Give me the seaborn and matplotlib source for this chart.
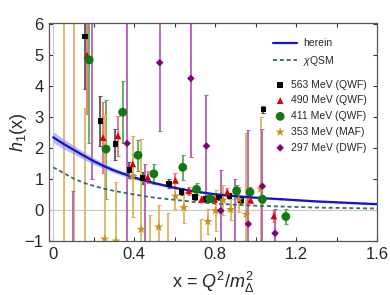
import numpy as np
import pandas as pd
import matplotlib
matplotlib.use('Agg')
import matplotlib.pyplot as plt
import seaborn as sns
from matplotlib.ticker import MultipleLocator, FuncFormatter

# curves
curve_x = [0.0, 0.05, 0.1, 0.15, 0.2, 0.25, 0.3, 0.4, 0.5, 0.6, 0.7, 0.8, 0.9, 1.0, 1.1, 1.2, 1.3, 1.4, 1.5, 1.6]
herein_y = [2.35, 2.14, 1.95, 1.76, 1.58, 1.42, 1.28, 1.05, 0.87, 0.72, 0.60, 0.51, 0.45, 0.40, 0.36, 0.32, 0.28, 0.25, 0.22, 0.19]
herein_err = [0.18, 0.16, 0.14, 0.12, 0.11, 0.09, 0.08, 0.06, 0.05, 0.04, 0.035, 0.03, 0.03, 0.03, 0.03, 0.03, 0.03, 0.03, 0.03, 0.03]
chiqsm_y = [1.38, 1.2, 1.02, 0.88, 0.78, 0.69, 0.62, 0.50, 0.40, 0.33, 0.26, 0.21, 0.17, 0.14, 0.12, 0.10, 0.08, 0.07, 0.06, 0.05]

# lattice points, 563 MeV (QWF)
x563 = [0.158, 0.233, 0.307, 0.376, 0.442, 0.571, 0.634, 0.70, 0.752, 0.818, 0.871, 0.929, 1.038]
y563 = [5.6, 2.88, 2.13, 1.29, 1.03, 0.85, 0.59, 0.42, 0.35, 0.41, 0.45, 0.33, 3.25]
e563 = [1.7, 0.8, 0.5, 0.25, 0.2, 0.15, 0.12, 0.1, 0.1, 0.1, 0.1, 0.1, 0.12]

# 490 MeV (QWF)
x490 = [0.167, 0.246, 0.32, 0.393, 0.467, 0.604, 0.67, 0.733, 0.797, 0.86, 0.975, 1.09]
y490 = [5.0, 2.34, 2.4, 1.49, 1.06, 0.96, 0.62, 0.35, 0.35, 0.58, 0.32, -0.19]
e490 = [1.9, 1.15, 0.65, 0.32, 0.2, 0.25, 0.12, 0.1, 0.1, 0.12, 0.1, 0.2]

# 411 MeV (QWF)
x411 = [0.178, 0.261, 0.343, 0.419, 0.497, 0.64, 0.708, 0.774, 0.906, 0.972, 1.033, 1.149]
y411 = [4.85, 1.97, 3.16, 1.77, 1.17, 1.38, 0.67, 0.37, 0.62, 0.58, 0.35, -0.21]
e411 = [2.7, 1.6, 1.0, 0.5, 0.32, 0.4, 0.2, 0.12, 0.2, 0.15, 0.12, 0.25]

# 353 MeV (MAF)
x353 = [0.054, 0.104, 0.155, 0.254, 0.31, 0.393, 0.435, 0.48, 0.521, 0.567, 0.604, 0.645,
        0.728, 0.764, 0.802, 0.84, 0.876, 0.917, 0.954, 1.025]
y353 = [-4.0, 8.0, -1.9, -0.94, -1.0, 1.08, -0.62, -1.6, -0.55, -1.5, 0.45, 0.08,
        -1.4, -0.37, -0.02, 0.32, 0.02, 0.34, -0.14, 0.68]
e353 = [10.5, 9.5, 5.2, 4.0, 1.9, 1.32, 2.9, 1.45, 0.7, 1.4, 0.42, 0.5,
        1.1, 0.4, 0.66, 0.48, 0.35, 0.4, 2.64, 2.32]

# 297 MeV (DWF)
x297 = [0.097, 0.19, 0.365, 0.452, 0.526, 0.68, 0.757, 0.827, 0.898, 0.964, 1.033, 1.096]
y297 = [-2.4, 7.5, 2.15, -1.6, 4.76, 4.25, 2.07, -0.02, -1.4, -0.45, 0.77, -0.75]
e297 = [3.0, 6.5, 4.6, 3.1, 2.2, 2.55, 1.65, 1.32, 2.4, 3.05, 1.85, 0.8]

sns.set_style('ticks')
plt.rcParams['font.family'] = ['Liberation Sans', 'DejaVu Sans']
plt.rcParams['mathtext.fontset'] = 'custom'
plt.rcParams['mathtext.rm'] = 'Liberation Sans'
plt.rcParams['mathtext.it'] = 'Liberation Sans:italic'

fig = plt.figure(figsize=(3.9, 2.95), dpi=100)
ax = fig.add_axes([0.126, 0.183, 0.841, 0.740])

ax.axhline(0, color='#c8c8c8', lw=0.8, zorder=1)
ax.axvline(0, color='#c8c8c8', lw=0.8, zorder=1)

series = [
    ('563 MeV (QWF)', x563, y563, e563, 'black', '#555555', 's', 16),
    ('490 MeV (QWF)', x490, y490, e490, '#e00000', '#f07070', '^', 24),
    ('411 MeV (QWF)', x411, y411, e411, '#127812', '#5aa85a', 'o', 40),
    ('353 MeV (MAF)', x353, y353, e353, '#c8901a', '#dcb460', '*', 48),
    ('297 MeV (DWF)', x297, y297, e297, '#800080', '#b060b0', 'D', 15),
]

for name, xs, ys, es, col, ecol, mk, sz in series:
    ax.errorbar(xs, ys, yerr=es, fmt='none', ecolor=ecol, elinewidth=1.3,
                capsize=1.5, capthick=0.8, zorder=2)

# fit band and curves
ax.fill_between(curve_x, np.array(herein_y) - np.array(herein_err),
                np.array(herein_y) + np.array(herein_err),
                color='#8c8cf0', alpha=0.6, lw=0, zorder=3)
sns.lineplot(x=curve_x, y=herein_y, color='#1414c8', lw=1.6, ax=ax,
             label='herein', zorder=3)
sns.lineplot(x=curve_x, y=chiqsm_y, color='#3a6868', lw=1.3, ax=ax,
             linestyle=(0, (2.2, 1.6)), label=r'$\chi$QSM', zorder=3)

for name, xs, ys, es, col, ecol, mk, sz in series:
    df = pd.DataFrame({'x': xs, 'y': ys})
    sns.scatterplot(data=df, x='x', y='y', marker=mk, color=col, s=sz,
                    edgecolor='none', ax=ax, label=name, zorder=4)

ax.set_xlim(-0.02, 1.6)
ax.set_ylim(-1.0, 6.05)
ax.xaxis.set_major_locator(MultipleLocator(0.4))
ax.xaxis.set_minor_locator(MultipleLocator(0.2))
ax.yaxis.set_major_locator(MultipleLocator(1))
ax.xaxis.set_major_formatter(FuncFormatter(lambda v, p: '0' if abs(v) < 1e-9 else '%.1f' % v))
ax.tick_params(which='both', direction='in', top=True, right=True, labelsize=12,
               color='#333333', width=0.8)
ax.tick_params(which='major', length=3, pad=4)
ax.tick_params(which='minor', length=3)
for sp in ax.spines.values():
    sp.set_color('#555555')
    sp.set_linewidth(0.9)

ax.set_xlabel(r'x = $Q^2/m_\Delta^2$', fontsize=13, labelpad=6)
ax.set_ylabel(r'$h_1$(x)', fontsize=13)
ax.yaxis.set_label_coords(-0.062, 0.5)

handles, labels = ax.get_legend_handles_labels()
leg1 = ax.legend(handles[:2], labels[:2], loc='upper left', bbox_to_anchor=(0.7, 0.87),
                 bbox_transform=fig.transFigure, frameon=False, fontsize=7.5,
                 handlelength=2.3, handletextpad=0.6, borderpad=0, borderaxespad=0,
                 labelspacing=0.5)
ax.add_artist(leg1)
ax.legend(handles[2:], labels[2:], loc='upper left', bbox_to_anchor=(0.705, 0.73),
          bbox_transform=fig.transFigure, frameon=False, fontsize=7.5,
          handlelength=1.0, handletextpad=0.5, borderpad=0, borderaxespad=0,
          labelspacing=0.55)

fig.savefig('out.png', dpi=100)
